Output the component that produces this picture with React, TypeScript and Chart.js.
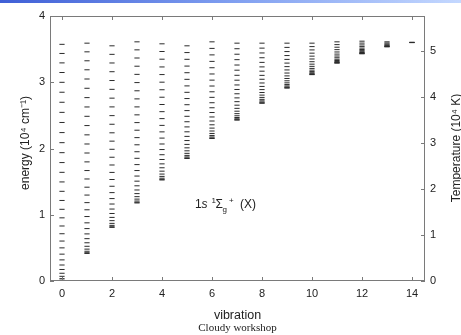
import React, { useEffect, useRef } from "react";
import { Chart, registerables } from "chart.js";

Chart.register(...registerables);

// Rovibrational level energies (10^4 cm^-1) for each vibrational level v
const levelsV0 = [0, 0.0119, 0.0354, 0.0706, 0.1169, 0.174, 0.2415, 0.3188, 0.4052, 0.5001, 0.603, 0.7133, 0.8303, 0.9534, 1.0821, 1.2157, 1.3537, 1.4953, 1.6402, 1.7876, 1.9371, 2.0881, 2.2402, 2.3928, 2.5455, 2.6978, 2.8491, 2.999, 3.147, 3.2924, 3.4345, 3.5722];
const levelsV1 = [0.416, 0.427, 0.449, 0.481, 0.524, 0.577, 0.639, 0.711, 0.791, 0.878, 0.973, 1.075, 1.183, 1.297, 1.416, 1.54, 1.667, 1.798, 1.932, 2.068, 2.206, 2.346, 2.486, 2.627, 2.768, 2.909, 3.049, 3.188, 3.324, 3.459, 3.59];
const levelsV2 = [0.809, 0.819, 0.84, 0.87, 0.911, 0.96, 1.019, 1.086, 1.162, 1.244, 1.334, 1.43, 1.532, 1.639, 1.751, 1.868, 1.988, 2.111, 2.237, 2.366, 2.496, 2.628, 2.76, 2.893, 3.026, 3.159, 3.291, 3.421, 3.55];
const levelsV3 = [1.178, 1.188, 1.207, 1.236, 1.273, 1.319, 1.374, 1.437, 1.507, 1.584, 1.667, 1.757, 1.852, 1.951, 2.056, 2.164, 2.276, 2.391, 2.508, 2.628, 2.749, 2.871, 2.995, 3.119, 3.242, 3.366, 3.489, 3.61];
const levelsV4 = [1.525, 1.534, 1.552, 1.579, 1.614, 1.658, 1.709, 1.768, 1.834, 1.906, 1.984, 2.068, 2.157, 2.251, 2.349, 2.451, 2.556, 2.664, 2.774, 2.887, 3.001, 3.116, 3.231, 3.348, 3.464, 3.58];
const levelsV5 = [1.849, 1.857, 1.873, 1.896, 1.927, 1.965, 2.01, 2.062, 2.12, 2.183, 2.252, 2.326, 2.404, 2.486, 2.572, 2.661, 2.754, 2.848, 2.945, 3.044, 3.144, 3.244, 3.346, 3.448, 3.55];
const levelsV6 = [2.151, 2.158, 2.174, 2.197, 2.227, 2.264, 2.308, 2.358, 2.415, 2.476, 2.543, 2.615, 2.691, 2.772, 2.856, 2.943, 3.032, 3.125, 3.219, 3.315, 3.413, 3.511, 3.61];
const levelsV7 = [2.429, 2.435, 2.449, 2.468, 2.494, 2.526, 2.563, 2.606, 2.654, 2.707, 2.764, 2.826, 2.891, 2.959, 3.031, 3.105, 3.182, 3.26, 3.341, 3.423, 3.506, 3.59];
const levelsV8 = [2.683, 2.689, 2.701, 2.719, 2.742, 2.771, 2.806, 2.845, 2.889, 2.937, 2.989, 3.045, 3.104, 3.167, 3.232, 3.3, 3.37, 3.442, 3.515, 3.59];
const levelsV9 = [2.912, 2.918, 2.928, 2.944, 2.965, 2.991, 3.022, 3.057, 3.096, 3.139, 3.186, 3.236, 3.289, 3.345, 3.403, 3.463, 3.526, 3.59];
const levelsV10 = [3.115, 3.12, 3.129, 3.143, 3.161, 3.183, 3.209, 3.24, 3.273, 3.31, 3.351, 3.394, 3.439, 3.488, 3.538, 3.59];
const levelsV11 = [3.289, 3.293, 3.3, 3.312, 3.328, 3.347, 3.37, 3.396, 3.425, 3.457, 3.492, 3.529, 3.568, 3.61];
const levelsV12 = [3.43, 3.433, 3.44, 3.449, 3.461, 3.477, 3.494, 3.515, 3.538, 3.563, 3.591, 3.62];
const levelsV13 = [3.535, 3.538, 3.544, 3.552, 3.563, 3.576, 3.592, 3.61];
const levelsV14 = [3.598, 3.6, 3.604];

const vibrationNumbers = [0, 1, 2, 3, 4, 5, 6, 7, 8, 9, 10, 11, 12, 13, 14];
const xTickValues = [0, 2, 4, 6, 8, 10, 12, 14];
const energyTickValues = [0, 1, 2, 3, 4];
const temperatureTickValues = [0, 1, 2, 3, 4, 5];
const energyToTemperature = 1.4388; // 10^4 cm^-1 -> 10^4 K

const allLevels = [levelsV0, levelsV1, levelsV2, levelsV3, levelsV4, levelsV5, levelsV6, levelsV7, levelsV8, levelsV9, levelsV10, levelsV11, levelsV12, levelsV13, levelsV14];

const FONT = "'Liberation Sans', Arial, sans-serif";
const AXIS_COLOR = "#7a7a7a";
const TEXT_COLOR = "#222";

const decorPlugin = {
  id: "decor",
  beforeDraw(chart: any) {
    const ctx = chart.ctx;
    ctx.save();
    ctx.fillStyle = "#fff";
    ctx.fillRect(0, 0, chart.width, chart.height);
    const g = ctx.createLinearGradient(0, 0, chart.width, 0);
    g.addColorStop(0, "#3f5fd6");
    g.addColorStop(0.5, "#7f9ef0");
    g.addColorStop(1, "#c4d8ff");
    ctx.fillStyle = g;
    ctx.fillRect(0, 0, chart.width, 3);
    ctx.restore();
  },
  afterDraw(chart: any) {
    const ctx = chart.ctx;
    const a = chart.chartArea;
    const xs = chart.scales.x;
    const ys = chart.scales.y;
    const y2 = chart.scales.y2;
    ctx.save();
    ctx.strokeStyle = AXIS_COLOR;
    ctx.lineWidth = 1;
    // frame
    ctx.strokeRect(Math.round(a.left) + 0.5, Math.round(a.top) + 0.5, Math.round(a.right - a.left) - 1, Math.round(a.bottom - a.top) - 1);
    ctx.beginPath();
    const tl = 4;
    xTickValues.forEach((v) => {
      const px = Math.round(xs.getPixelForValue(v)) + 0.5;
      ctx.moveTo(px, a.bottom);
      ctx.lineTo(px, a.bottom - tl);
      ctx.moveTo(px, a.top);
      ctx.lineTo(px, a.top + tl);
    });
    energyTickValues.forEach((v) => {
      const py = Math.round(ys.getPixelForValue(v)) + 0.5;
      ctx.moveTo(a.left, py);
      ctx.lineTo(a.left + tl, py);
    });
    temperatureTickValues.forEach((v) => {
      const py = Math.round(y2.getPixelForValue(v)) + 0.5;
      ctx.moveTo(a.right, py);
      ctx.lineTo(a.right - tl, py);
    });
    ctx.stroke();

    ctx.fillStyle = TEXT_COLOR;
    // x title
    ctx.textAlign = "center";
    ctx.textBaseline = "alphabetic";
    ctx.font = `12.5px ${FONT}`;
    const cx = (a.left + a.right) / 2;
    ctx.fillText("vibration", cx, 319);
    ctx.font = "11px 'Liberation Serif', 'Times New Roman', serif";
    ctx.fillText("Cloudy workshop", cx, 331);

    // left title
    ctx.save();
    ctx.translate(29, 143);
    ctx.rotate(-Math.PI / 2);
    ctx.font = `12px ${FONT}`;
    ctx.textAlign = "center";
    ctx.fillText("energy (10\u2074 cm\u207B\u00B9)", 0, 0);
    ctx.restore();

    // right title
    ctx.save();
    ctx.translate(460, 148);
    ctx.rotate(-Math.PI / 2);
    ctx.font = `12px ${FONT}`;
    ctx.textAlign = "center";
    ctx.fillText("Temperature (10\u2074 K)", 0, 0);
    ctx.restore();

    // state label 1s 1Σg+ (X)
    ctx.textAlign = "left";
    const by = 208;
    ctx.font = `12px ${FONT}`;
    ctx.fillText("1", 195, by);
    ctx.font = `italic 12px ${FONT}`;
    ctx.fillText("s", 201.5, by);
    ctx.font = `8px ${FONT}`;
    ctx.fillText("1", 211.5, by - 5);
    ctx.font = `12px ${FONT}`;
    ctx.fillText("\u03A3", 215.5, by);
    ctx.font = `8px ${FONT}`;
    ctx.fillText("g", 222.5, by + 3.5);
    ctx.fillText("+", 229, by - 5);
    ctx.font = `12px ${FONT}`;
    ctx.fillText("(X)", 240, by);
    ctx.restore();
  },
};

export default function App() {
  const ref = useRef<HTMLCanvasElement | null>(null);
  useEffect(() => {
    if (!ref.current) return;
    const points: { x: number; y: number }[] = [];
    vibrationNumbers.forEach((v, i) => {
      allLevels[i].forEach((e) => points.push({ x: v, y: e }));
    });
    const chart = new Chart(ref.current, {
      type: "scatter",
      data: {
        datasets: [
          {
            data: points,
            pointStyle: "line",
            pointRadius: 2.6,
            borderColor: "#2a2a2a",
            backgroundColor: "#2a2a2a",
            borderWidth: 1,
            showLine: false,
          },
        ],
      },
      options: {
        responsive: false,
        animation: false,
        events: [],
        layout: { padding: { top: 16, left: 0, right: 0, bottom: 0 } },
        plugins: { legend: { display: false }, tooltip: { enabled: false } },
        scales: {
          x: {
            type: "linear",
            min: -0.48,
            max: 14.52,
            afterBuildTicks: (s: any) => {
              s.ticks = xTickValues.map((v) => ({ value: v }));
            },
            afterFit: (s: any) => {
              s.height = 54;
            },
            grid: { display: false, drawTicks: false },
            border: { display: false },
            ticks: { padding: 6, color: TEXT_COLOR, font: { family: FONT, size: 11 }, maxRotation: 0 },
          },
          y: {
            type: "linear",
            position: "left",
            min: 0,
            max: 4,
            afterBuildTicks: (s: any) => {
              s.ticks = energyTickValues.map((v) => ({ value: v }));
            },
            afterFit: (s: any) => {
              s.width = 50;
            },
            grid: { display: false, drawTicks: false },
            border: { display: false },
            ticks: { padding: 5, color: TEXT_COLOR, font: { family: FONT, size: 11 } },
          },
          y2: {
            type: "linear",
            position: "right",
            min: 0,
            max: 4 * energyToTemperature,
            afterBuildTicks: (s: any) => {
              s.ticks = temperatureTickValues.map((v) => ({ value: v }));
            },
            afterFit: (s: any) => {
              s.width = 36;
            },
            grid: { display: false, drawTicks: false },
            border: { display: false },
            ticks: { padding: 5, color: TEXT_COLOR, font: { family: FONT, size: 11 } },
          },
        },
      },
      plugins: [decorPlugin],
    });
    return () => chart.destroy();
  }, []);
  return (
    <div style={{ position: "fixed", left: 0, top: 0, width: 461, height: 335, background: "#fff" }}>
      <canvas ref={ref} width={461} height={335} style={{ display: "block" }} />
    </div>
  );
}
